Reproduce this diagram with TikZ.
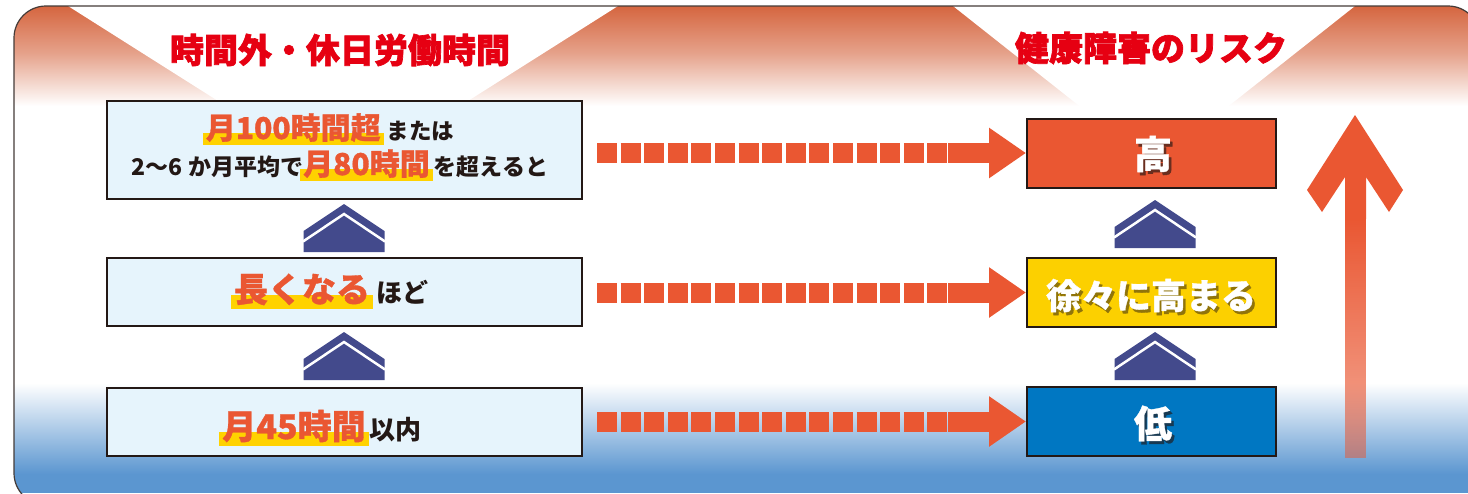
\documentclass[tikz,border=0pt]{standalone}
\usepackage{fontspec}
\setmainfont{Noto Sans CJK JP}
\newfontfamily\heavyA{Noto Sans CJK JP}[BoldFeatures={FakeBold=2}]
\newfontfamily\heavyB{Noto Sans CJK JP}[BoldFeatures={FakeBold=1}]
\usetikzlibrary{calc,arrows.meta,fadings}
\definecolor{orC}{HTML}{EA5732}
\definecolor{redT}{HTML}{E60012}
\definecolor{navy}{HTML}{434A8C}
\definecolor{lboxc}{HTML}{E6F4FC}
\definecolor{yelH}{HTML}{FFD200}
\definecolor{yelB}{HTML}{FCD000}
\definecolor{bluB}{HTML}{0077C2}
\definecolor{topO}{HTML}{D35E36}
\definecolor{botB}{HTML}{5B96D0}
\definecolor{ink}{HTML}{231815}
\tikzfading[name=fadedown, top color=transparent!0, bottom color=transparent!50]
\newsavebox\hlbox
\newcommand\hl[2]{\sbox\hlbox{\fontsize{#1}{#1}\selectfont\heavyB\bfseries\color{orC}#2}\makebox[0pt][l]{\kern-3pt{\color{yelH}\rule[\dimexpr-#1pt*20/100\relax]{\dimexpr\wd\hlbox+6pt\relax}{\dimexpr#1pt*40/100\relax}}}\usebox\hlbox}
\newcommand\bk[2]{{\fontsize{#1}{#1}\selectfont\bfseries\color{ink}#2}}
% white text with a drop shadow inside one text: #1 shadow colour, #2 text
\newcommand\shtx[2]{\makebox[0pt][l]{\kern2.5pt\raisebox{-3pt}{\color{#1}#2}}#2}
\tikzset{
  titletx/.style={inner sep=0pt, text=redT, font=\fontsize{34}{34}\selectfont\heavyA\bfseries},
  lboxs/.style={draw=ink, line width=2pt, fill=lboxc, minimum width=475pt, inner sep=0pt},
  rboxs/.style={draw=ink, line width=2pt, minimum width=249pt, minimum height=69pt, inner sep=0pt},
  linetx/.style={anchor=base, inner sep=0pt},
  whitetx/.style={inner sep=0pt, text=white, font=\heavyB\bfseries},
  sqdash/.style={line width=20pt, draw=orC, dash pattern=on 20pt off 3.6pt},
  bigarrow/.style={line width=20pt, draw=orC, -{Triangle[length=37pt,width=48pt]}},
  chev/.pic={
    \fill[navy] (-40.5,48) -- (-40.5,27) -- (0,0) -- (40.5,27) -- (40.5,48) -- cycle;
    \draw[white, line width=2.5pt] (-41,37.5) -- (0,10) -- (41,37.5);
  }
}
\begin{document}
\begin{tikzpicture}[x=1pt, y=-1pt]
\useasboundingbox (0,0) rectangle (1468,493);
\clip (0,0) rectangle (1468,493);
% background
\begin{scope}
  \clip[rounded corners=32pt] (14,6) rectangle (1480,505);
  \fill[white] (0,0) rectangle (1468,493);
  \shade[top color=topO, bottom color=white, middle color=topO!58!white] (0,0) rectangle (1468,106);
  \fill[white] (68,6) -- (618,6) -- (343,180) -- cycle;
  \fill[white] (953,6) -- (1355,6) -- (1154,165) -- cycle;
  \shade[top color=white, bottom color=botB] (0,383) rectangle (1468,474);
  \fill[botB] (0,473.5) rectangle (1468,493);
\end{scope}
\draw[ink!85, line width=1.2pt, rounded corners=32pt] (14,6) rectangle (1480,505);
% titles
\node[titletx] (t1) at (340,50) {時間外・休日労働時間};
\node[titletx] (t2) at (1151,48) {健康障害のリスク};
% left boxes
\node[lboxs, minimum height=98pt] (L1) at (344.5,150) {};
\node[lboxs, minimum height=68pt] (L2) at (344.5,292) {};
\node[lboxs, minimum height=68pt] (L3) at (344.5,422) {};
\node[linetx] (L1a) at (330,139) {\hl{30}{月100時間超}\kern6pt\bk{22.5}{または}};
\node[linetx] (L1b) at (340,175) {\bk{23}{2〜6 か月平均で}\hl{30}{月80時間}\kern4pt\bk{23}{を超えると}};
\node[linetx] (L2a) at (331,302) {\hl{34}{長くなる}\kern6pt\bk{26}{ほど}};
\node[linetx] (L3a) at (322,439) {\hl{34}{月45時間}\kern4pt\bk{26}{以内}};
% right boxes
\node[rboxs, fill=orC] (R1) at (1151.5,153) {};
\node[rboxs, fill=yelB] (R2) at (1151.5,292.5) {};
\node[rboxs, fill=bluB] (R3) at (1151.5,421.5) {};
\node[whitetx] (R1t) at (1153,155.5) {\fontsize{38}{38}\selectfont\shtx{ink!65!orC}{高}};
\node[whitetx] (R2t) at (1151,297) {\fontsize{35}{35}\selectfont\shtx{ink!50!yelB}{徐々に高まる}};
\node[whitetx] (R3t) at (1153,425) {\fontsize{38}{38}\selectfont\shtx{ink!65!bluB}{低}};
% chevrons
\pic at (344,204) {chev};
\pic at (344,332) {chev};
\pic at (1155,200) {chev};
\pic at (1155,332) {chev};
% dashed arrows
\foreach \r in {1,2,3}{
  \coordinate (s\r) at ($(R\r.west -| L\r.east)+(14,0)$);
  \draw[sqdash] (s\r) -- ++(350.4,0);
  \draw[bigarrow] ($(R\r.west)+(-78,0)$) -- (R\r.west);
}
% big up arrow
\fill[orC] (1355,115) -- (1403,190) -- (1389,212) -- (1366,177) -- (1366,219) -- (1345,219) -- (1345,177) -- (1322,212) -- (1307,190) -- cycle;
\fill[orC, path fading=fadedown] (1345,218) rectangle (1366,458);
\end{tikzpicture}
\end{document}
